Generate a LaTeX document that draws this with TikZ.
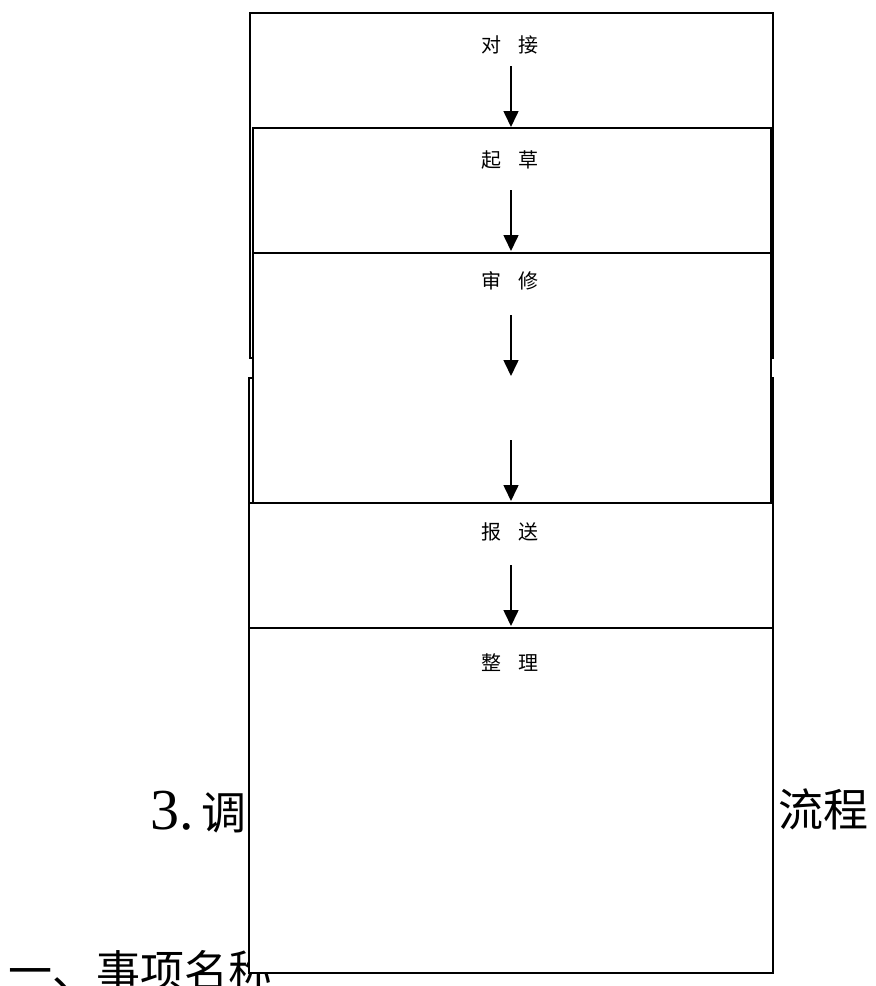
\documentclass[tikz,border=0pt]{standalone}
\usepackage{fontspec}
\setmainfont{Liberation Serif}
\newfontfamily\cjk{Noto Sans CJK SC}
\usetikzlibrary{arrows.meta}
\begin{document}
\begin{tikzpicture}[x=1pt,y=-1pt,
  frame/.style={draw=black,line width=1.5pt,fill=white},
  lbl/.style={inner sep=0pt,font=\cjk\fontsize{20}{20}\selectfont},
  big/.style={inner sep=0pt,font=\cjk\fontsize{45}{45}\selectfont},
  conn/.style={line width=1.6pt,-{Triangle[width=15pt,length=16pt]}}]
\useasboundingbox (0,0) rectangle (876,986);
% titles (partly hidden behind the boxes)
\node[big,anchor=base west] (t3) at (150,829) {{\rmfamily\fontsize{58}{58}\selectfont 3.}\,调};
\node[big,anchor=west] (tflow) at (778,809) {流程};
\node[big,anchor=west,font=\cjk\fontsize{44}{44}\selectfont] (tname) at (8,971) {一、事项名称};
% boxes
\draw[frame] (249,378) rectangle (773,628);
\draw[frame] (250,13) rectangle (773,358);
\draw[frame] (253,128) rectangle (771,253);
\draw[frame] (253,253) rectangle (771,503);
\draw[frame] (249,503) rectangle (773,628);
\draw[frame] (249,628) rectangle (773,973);
% labels
\node[lbl] (l1) at (510,45) {对\hspace{0.85em}接};
\node[lbl] (l2) at (510,160) {起\hspace{0.85em}草};
\node[lbl] (l3) at (510,281) {审\hspace{0.85em}修};
\node[lbl] (l4) at (510,532) {报\hspace{0.85em}送};
\node[lbl] (l5) at (510,663) {整\hspace{0.85em}理};
% arrow coordinates
\coordinate (a1s) at (511,66);  \coordinate (a1e) at (511,127);
\coordinate (a2s) at (511,190); \coordinate (a2e) at (511,251);
\coordinate (a3s) at (511,315); \coordinate (a3e) at (511,376);
\coordinate (a4s) at (511,440); \coordinate (a4e) at (511,501);
\coordinate (a5s) at (511,565); \coordinate (a5e) at (511,626);
\draw[conn] (a1s) -- (a1e);
\draw[conn] (a2s) -- (a2e);
\draw[conn] (a3s) -- (a3e);
\draw[conn] (a4s) -- (a4e);
\draw[conn] (a5s) -- (a5e);
\end{tikzpicture}
\end{document}
